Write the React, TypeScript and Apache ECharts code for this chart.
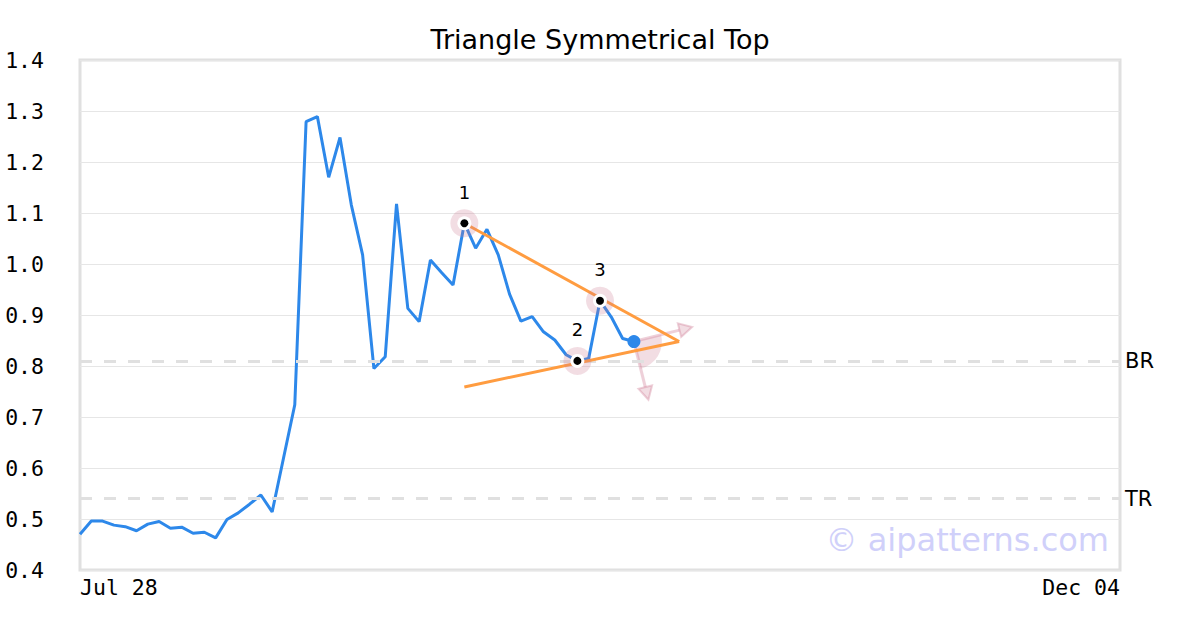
import React, { useEffect, useRef } from "react";
import * as echarts from "echarts";

// ---- data ----
const MONTHS = ["Jan", "Feb", "Mar", "Apr", "May", "Jun", "Jul", "Aug", "Sep", "Oct", "Nov", "Dec"];
const START_DATE = "2025-07-28";
const END_DATE = "2025-12-04";
const HOLIDAYS = ["2025-09-01"];

function tradingDays(start: string, end: string): string[] {
  const out: string[] = [];
  const d = new Date(start + "T00:00:00Z");
  const e = new Date(end + "T00:00:00Z");
  while (d <= e) {
    const iso = d.toISOString().slice(0, 10);
    const wd = d.getUTCDay();
    if (wd !== 0 && wd !== 6 && HOLIDAYS.indexOf(iso) < 0) {
      out.push(MONTHS[d.getUTCMonth()] + " " + String(d.getUTCDate()).padStart(2, "0"));
    }
    d.setUTCDate(d.getUTCDate() + 1);
  }
  return out;
}

const categories = tradingDays(START_DATE, END_DATE);

const prices = [
  0.470, 0.496, 0.496, 0.488, 0.485, 0.477, 0.490, 0.495, 0.482, 0.484,
  0.472, 0.474, 0.463, 0.499, 0.512, 0.529, 0.547, 0.514, 0.619, 0.724,
  1.279, 1.289, 1.170, 1.248, 1.116, 1.018, 0.795, 0.818, 1.118, 0.913,
  0.887, 1.008, 0.983, 0.959, 1.080, 1.031, 1.068, 1.018, 0.941, 0.888,
  0.897, 0.867, 0.851, 0.822, 0.810, 0.815, 0.928, 0.896, 0.854, 0.848,
];

const pivotIndex = [34, 44, 46];
const pivotValue = [1.080, 0.810, 0.928];
const pivotLabel = ["1", "2", "3"];

const upperTrend = [[34, 1.080], [53, 0.848]];
const lowerTrend = [[34, 0.759], [53, 0.848]];

const levelValue = [0.810, 0.538];
const levelName = ["BR", "TR"];

const Y_MIN = 0.4;
const Y_MAX = 1.4;
const Y_STEP = 0.1;

const TITLE = "Triangle Symmetrical Top";
const WATERMARK = "© aipatterns.com";

// ---- styles ----
const BLUE = "#2d88ea";
const ORANGE = "#ff9c40";
const PINK_FILL = "rgba(205,120,145,0.25)";
const PINK_STROKE = "rgba(205,120,145,0.35)";
const MONO = "DejaVu Sans Mono";
const SANS = "DejaVu Sans";
const AXIS_FS = 21.5;

export default function App() {
  const ref = useRef<HTMLDivElement>(null);

  useEffect(() => {
    document.body.style.margin = "0";
    if (!ref.current) return;
    const chart = echarts.init(ref.current, undefined, { renderer: "svg" });
    const last = prices.length - 1;
    const pivots = pivotIndex.map((x, i) => [x, pivotValue[i], pivotLabel[i]]);

    chart.setOption({
      animation: false,
      backgroundColor: "#fff",
      title: {
        text: TITLE,
        left: "center",
        top: 21,
        textStyle: { fontFamily: SANS, fontSize: 27, fontWeight: "normal", color: "#000" },
      },
      grid: {
        left: 80,
        right: 80,
        top: 60,
        bottom: 60,
        show: true,
        borderColor: "#e0e0e0",
        borderWidth: 3,
        backgroundColor: "#fff",
      },
      xAxis: {
        type: "category",
        data: categories,
        boundaryGap: false,
        axisLine: { show: false },
        axisTick: { show: false },
        splitLine: { show: false },
        axisLabel: {
          interval: (i: number) => i === 0 || i === categories.length - 1,
          alignMinLabel: "left",
          alignMaxLabel: "right",
          fontFamily: MONO,
          fontSize: AXIS_FS,
          color: "#000",
          margin: 6,
        },
      },
      yAxis: {
        type: "value",
        min: Y_MIN,
        max: Y_MAX,
        interval: Y_STEP,
        axisLine: { show: false },
        axisTick: { show: false },
        splitLine: { lineStyle: { color: "#e6e6e6", width: 1 } },
        axisLabel: {
          formatter: (v: number) => v.toFixed(1),
          fontFamily: MONO,
          fontSize: AXIS_FS,
          color: "#000",
          margin: 36,
        },
      },
      graphic: [
        {
          type: "text",
          right: 91,
          top: 524,
          z: 1,
          style: {
            text: WATERMARK,
            fontFamily: SANS,
            fontSize: 32,
            fill: "#d0d0fa",
          },
        },
      ],
      series: [
        {
          type: "line",
          data: prices,
          showSymbol: false,
          symbol: "none",
          lineStyle: { color: BLUE, width: 3 },
          z: 3,
          markLine: {
            silent: true,
            symbol: "none",
            lineStyle: { color: "#e0e0e0", width: 3, type: [12, 12] },
            label: {
              position: "end",
              formatter: (p: any) => p.name,
              fontFamily: SANS,
              fontSize: 21,
              color: "#000",
              distance: 5,
            },
            data: levelValue.map((v, i) => ({ name: levelName[i], yAxis: v })),
          },
        },
        {
          type: "custom",
          z: 4,
          data: [[last, prices[last]]],
          renderItem: (params: any, api: any) => {
            const c = api.coord([api.value(0), api.value(1)]);
            const cx = c[0];
            const cy = c[1];
            const R = 28;
            const L = 60;
            const a1 = (-14 * Math.PI) / 180;
            const a2 = (76 * Math.PI) / 180;
            const arrow = (a: number) => {
              const tx = cx + L * Math.cos(a);
              const ty = cy + L * Math.sin(a);
              const bx = cx + (L - 13) * Math.cos(a);
              const by = cy + (L - 13) * Math.sin(a);
              const px = -Math.sin(a) * 7;
              const py = Math.cos(a) * 7;
              return [
                { type: "line", shape: { x1: cx, y1: cy, x2: bx, y2: by }, style: { stroke: PINK_STROKE, lineWidth: 3 } },
                {
                  type: "polygon",
                  shape: { points: [[tx, ty], [bx + px, by + py], [bx - px, by - py]] },
                  style: { fill: PINK_FILL, stroke: PINK_STROKE, lineWidth: 2 },
                },
              ];
            };
            return {
              type: "group",
              children: [
                {
                  type: "sector",
                  shape: { cx, cy, r0: 0, r: R, startAngle: a1, endAngle: a2, clockwise: true },
                  style: { fill: PINK_FILL },
                },
                ...arrow(a1),
                ...arrow(a2),
              ],
            };
          },
        },
        {
          type: "line",
          data: upperTrend,
          symbol: "none",
          lineStyle: { color: ORANGE, width: 3 },
          z: 5,
        },
        {
          type: "line",
          data: lowerTrend,
          symbol: "none",
          lineStyle: { color: ORANGE, width: 3 },
          z: 5,
        },
        {
          type: "scatter",
          data: pivots,
          symbolSize: 28,
          itemStyle: { color: "rgba(205,120,145,0.25)", opacity: 1 },
          z: 6,
          label: {
            show: true,
            position: "inside",
            offset: [0, -31],
            formatter: (p: any) => p.value[2],
            fontFamily: SANS,
            fontSize: 18,
            color: "#000",
            textBorderWidth: 0,
          },
        },
        {
          type: "scatter",
          data: pivots,
          symbolSize: 14,
          itemStyle: { color: "#fff", opacity: 1 },
          z: 7,
        },
        {
          type: "scatter",
          data: pivots,
          symbolSize: 8,
          itemStyle: { color: "#000", opacity: 1 },
          z: 8,
        },
        {
          type: "scatter",
          data: [[last, prices[last]]],
          symbolSize: 13,
          itemStyle: { color: BLUE, opacity: 1 },
          z: 8,
        },
      ],
    });

    return () => chart.dispose();
  }, []);

  return <div ref={ref} style={{ width: 1200, height: 630 }} />;
}
